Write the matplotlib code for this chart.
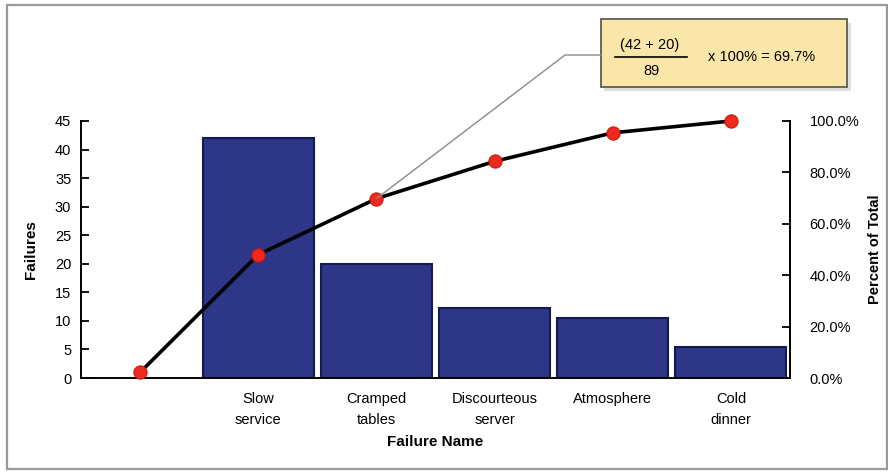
import matplotlib
matplotlib.use('Agg')
import matplotlib.pyplot as plt
from matplotlib import font_manager
from matplotlib.patches import Rectangle
from matplotlib.lines import Line2D

# Data
categories = ['', 'Slow\nservice', 'Cramped\ntables', 'Discourteous\nserver', 'Atmosphere', 'Cold\ndinner']
failures = [42, 20, 12.3, 10.5, 5.5]
cum_percent = [2.2, 48.0, 69.8, 84.3, 95.4, 100.0]
left_ticks = [0, 5, 10, 15, 20, 25, 30, 35, 40, 45]
right_ticks = [0, 20, 40, 60, 80, 100]

BAR_COLOR = '#2e3688'
BAR_EDGE = '#151a55'
DOT_COLOR = '#ee2a1e'

# Pick a narrow font if there is one
names = {f.name for f in font_manager.fontManager.ttflist}
FONT = 'Liberation Sans Narrow' if 'Liberation Sans Narrow' in names else 'Liberation Sans'
plt.rcParams['font.family'] = [FONT, 'DejaVu Sans']

W, H = 888, 472


# pixel position -> figure fraction
def px(x, y):
    return x / W, 1 - y / H


fig = plt.figure(figsize=(W / 100, H / 100), dpi=100)
fig.patch.set_facecolor('white')

# outer frame of the picture
fig.patches.append(Rectangle(px(7, 469), 880 / W, 464 / H, transform=fig.transFigure,
                             fill=False, edgecolor='#9a9a9a', linewidth=1.6))

ax = fig.add_axes([81 / W, 1 - 378 / H, (790 - 81) / W, (378 - 121) / H])
ax2 = ax.twinx()

xs = list(range(len(categories)))
ax.bar(xs[1:], failures, width=0.94, color=BAR_COLOR, edgecolor=BAR_EDGE, linewidth=1.5, zorder=2)

ax.set_xlim(-0.5, 5.5)
ax.set_ylim(0, 45)
ax.set_yticks(left_ticks)
ax.set_xticks(xs)
ax.set_xticklabels(categories, fontsize=10.5, linespacing=1.65)
ax.tick_params(axis='x', length=0, pad=10)
ax.tick_params(axis='y', direction='in', length=6, width=1.3, pad=7, labelsize=10.5)

for side in ['top', 'right']:
    ax.spines[side].set_visible(False)
ax.spines['left'].set_linewidth(1.4)
ax.spines['bottom'].set_linewidth(1.4)

ax.set_ylabel('Failures', fontsize=11, fontweight='bold', labelpad=12)
ax.set_xlabel('Failure Name', fontsize=11, fontweight='bold', labelpad=6)

# cumulative line on right axis
ax2.set_ylim(0, 100)
ax2.set_yticks(right_ticks)
ax2.set_yticklabels([f'{t:.1f}%' for t in right_ticks])
ax2.tick_params(axis='y', direction='in', length=6, width=1.3, pad=14, labelsize=10.5)
for side in ['top', 'left', 'bottom']:
    ax2.spines[side].set_visible(False)
ax2.spines['right'].set_linewidth(1.4)
ax2.set_ylabel('Percent of Total', fontsize=10.5, fontweight='bold', labelpad=6)

ax2.plot(xs, cum_percent, color='black', linewidth=2.6, zorder=3,
         marker='o', markersize=9.5, markerfacecolor=DOT_COLOR, markeredgecolor='#c81810',
         markeredgewidth=0.8, clip_on=False)

# callout box
fig.canvas.draw()
pt = fig.transFigure.inverted().transform(ax2.transData.transform((2, cum_percent[2])))
fig.add_artist(Line2D([pt[0], px(565, 55)[0], px(601, 55)[0]],
                      [pt[1], px(565, 55)[1], px(601, 55)[1]],
                      transform=fig.transFigure, color='#8a8a8a', linewidth=1.0))

fig.patches.append(Rectangle(px(604, 91), 247 / W, 68 / H, transform=fig.transFigure,
                             facecolor='#dedede', edgecolor='none'))
fig.patches.append(Rectangle(px(601, 87), 246 / W, 68 / H, transform=fig.transFigure,
                             facecolor='#fbe6aa', edgecolor='#5e5b50', linewidth=1.3))

fig.text(*px(650, 45), '(42 + 20)', ha='center', va='center', fontsize=10.5)
fig.add_artist(Line2D([px(615, 57)[0], px(687, 57)[0]], [px(615, 57)[1], px(687, 57)[1]],
                      transform=fig.transFigure, color='black', linewidth=1.2))
fig.text(*px(651, 71), '89', ha='center', va='center', fontsize=10.5)
fig.text(*px(708, 57), 'x 100% = 69.7%', ha='left', va='center', fontsize=10.5)

plt.savefig('out.png', dpi=100)
